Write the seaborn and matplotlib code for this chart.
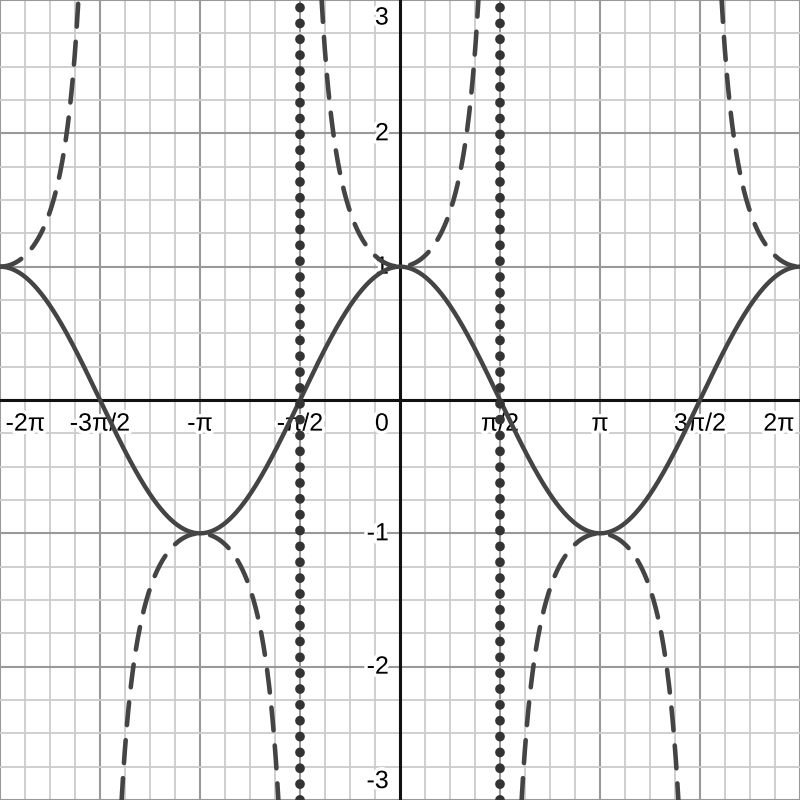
import numpy as np
import seaborn as sns
import matplotlib.pyplot as plt
import matplotlib.patheffects as pe
from matplotlib.ticker import MultipleLocator

sns.set_style('white')
plt.rcParams['font.family'] = ['Liberation Sans', 'DejaVu Sans']

# tick values and labels
x_tick_vals = [-2 * np.pi, -3 * np.pi / 2, -np.pi, -np.pi / 2, 0,
               np.pi / 2, np.pi, 3 * np.pi / 2, 2 * np.pi]
x_tick_labels = ['-2π', '-3π/2', '-π', '-π/2', '0', 'π/2', 'π', '3π/2', '2π']
y_tick_vals = [-3, -2, -1, 1, 2, 3]
y_tick_labels = ['-3', '-2', '-1', '1', '2', '3']

# vertical asymptotes drawn in the chart
asymptotes = [-np.pi / 2, np.pi / 2]
# breaks of sec(x) inside the window
sec_breaks = [-2 * np.pi, -3 * np.pi / 2, -np.pi / 2, np.pi / 2, 3 * np.pi / 2, 2 * np.pi]

curve_col = '#444444'

fig = plt.figure(figsize=(8, 8), dpi=100)
ax = fig.add_axes([0, 0, 1, 1])
ax.set_xlim(-2 * np.pi, 2 * np.pi)
ax.set_ylim(-3, 3)

# grid
ax.xaxis.set_major_locator(MultipleLocator(np.pi / 2))
ax.xaxis.set_minor_locator(MultipleLocator(np.pi / 8))
ax.yaxis.set_major_locator(MultipleLocator(1))
ax.yaxis.set_minor_locator(MultipleLocator(0.25))
ax.grid(which='major', color='#999999', lw=1.5, zorder=0)
ax.grid(which='minor', color='#cccccc', lw=1.3, zorder=0)
ax.tick_params(which='both', length=0, labelbottom=False, labelleft=False)
ax.set_axisbelow(True)
for s in ax.spines.values():
    s.set_visible(False)

ax.axhline(0, color='#111111', lw=2.2, zorder=1)
ax.axvline(0, color='#111111', lw=2.2, zorder=1)

# cos(x)
x = np.linspace(-2 * np.pi, 2 * np.pi, 1500)
sns.lineplot(x=x, y=np.cos(x), ax=ax, color=curve_col, lw=3.2,
             solid_capstyle='round', zorder=4)

# sec(x), one branch per interval
for a, b in zip(sec_breaks[:-1], sec_breaks[1:]):
    xs = np.linspace(a, b, 800)[1:-1]
    ys = 1 / np.cos(xs)
    m = np.abs(ys) < 3.6
    sns.lineplot(x=xs[m], y=ys[m], ax=ax, color=curve_col, lw=3.3,
                 dashes=(5, 3.3), dash_capstyle='round', zorder=4)

# asymptotes (dotted)
for xa in asymptotes:
    ax.axvline(xa, color='#333333', lw=7, dashes=(0.01, 1.62),
               dash_capstyle='round', zorder=4)

halo = [pe.withStroke(linewidth=5, foreground='white')]
fs = 18

for v, lab in zip(x_tick_vals, x_tick_labels):
    ha, dx = 'center', 0
    if lab == '0':
        ha, dx = 'right', -8
    elif lab == '-2π':
        ha, dx = 'left', 4
    elif lab == '2π':
        ha, dx = 'right', -4
    ax.annotate(lab, xy=(v, 0), xytext=(dx, -17), textcoords='offset points',
                ha=ha, va='center', fontsize=fs, color='black',
                path_effects=halo, zorder=2, annotation_clip=False)

for v, lab in zip(y_tick_vals, y_tick_labels):
    va, dy = 'center', 0
    if v == 3:
        va, dy = 'top', -4
    elif v == -3:
        va, dy = 'bottom', 5
    ax.annotate(lab, xy=(0, v), xytext=(-8, dy), textcoords='offset points',
                ha='right', va=va, fontsize=fs, color='black',
                path_effects=halo, zorder=2, annotation_clip=False)

fig.savefig('out.png', dpi=100)
